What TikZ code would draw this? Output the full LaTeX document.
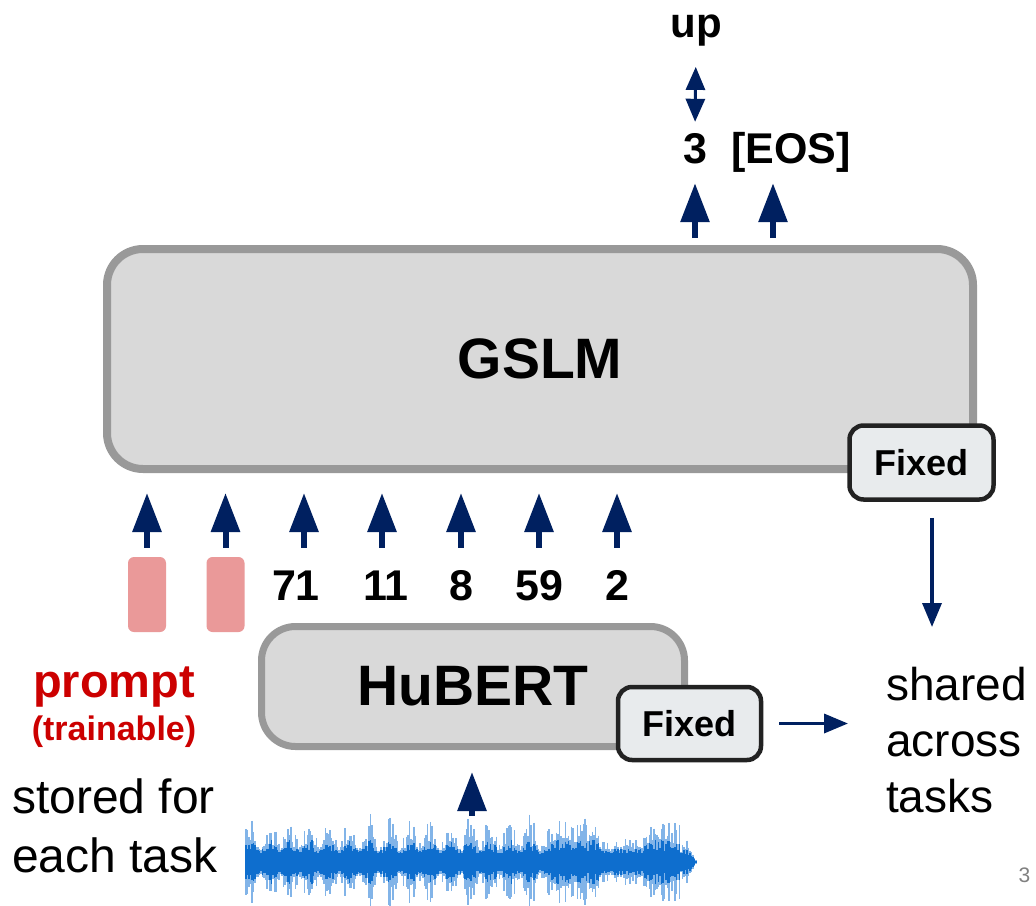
\documentclass[tikz,border=0pt]{standalone}
\usepackage{fontspec}
\setmainfont{Liberation Sans}
\usetikzlibrary{arrows.meta, positioning}
\definecolor{navy}{RGB}{0,32,96}
\definecolor{boxEdge}{RGB}{153,153,153}
\definecolor{boxFill}{RGB}{217,217,217}
\definecolor{fixedEdge}{RGB}{34,34,34}
\definecolor{fixedFill}{RGB}{232,235,237}
\definecolor{pinkFill}{RGB}{234,153,153}
\definecolor{promptRed}{RGB}{204,0,0}
\definecolor{waveDark}{RGB}{14,110,206}
\definecolor{waveLight}{RGB}{130,180,232}
\tikzstyle{bigBox} = [draw=boxEdge, fill=boxFill, line width=8pt,
   rounded corners=36pt, font=\fontsize{57}{60}\selectfont\bfseries]
\tikzstyle{fixedBox} = [draw=fixedEdge, fill=fixedFill, line width=4.5pt,
   rounded corners=14pt, minimum width=144pt, minimum height=74pt,
   font=\fontsize{36}{40}\selectfont\bfseries]
\tikzstyle{token} = [inner sep=0pt, text height=32pt, text depth=0pt,
   font=\fontsize{43}{45}\selectfont\bfseries]
\tikzstyle{promptBox} = [fill=pinkFill, rounded corners=6pt, minimum width=38pt,
   minimum height=75pt, inner sep=0pt]
\tikzstyle{fatArrow} = [navy, line width=6pt, -{Triangle[length=39pt,width=28pt]}]
\tikzstyle{thinArrow} = [navy, line width=3.5pt, -{Triangle[length=24pt,width=19pt]}]

\begin{document}
\begin{tikzpicture}[x=1pt, y=-1pt]
  \path[use as bounding box, fill=white] (0,0) rectangle (1036,905);

  % the two models
  \node[bigBox, minimum width=866pt, minimum height=220pt] (gslm) at (540,359) {GSLM};
  \node[fixedBox] (fixedg) at (921.5,462.5) {Fixed};
  \node[bigBox, line width=7pt, rounded corners=34pt, minimum width=423pt,
    minimum height=120pt] (hubert) at (473,686.5) {HuBERT};
  \node[fixedBox, minimum width=143pt, minimum height=73pt] (fixedh) at (689.5,723.5) {Fixed};

  % prompt vectors and units
  \node[promptBox] (p1) at (147,594.5) {};
  \node[promptBox] (p2) at (225.5,594.5) {};
  \foreach \tok/\x [count=\i] in {71/296, 11/386, 8/461, 59/539, 2/617}
    \node[token] (t\i) at (\x,584) {\tok};
  \foreach \n in {p1,p2}
    \draw[fatArrow, shorten <=9pt, shorten >=20pt] (\n.north) -- (\n.north |- gslm.south);
  \foreach \n/\dx in {t1/8, t2/-4, t3/0, t4/0, t5/0}
    \draw[fatArrow, shorten <=20pt, shorten >=20pt] ([xshift=\dx pt]\n.north) -- ([xshift=\dx pt]\n.north |- gslm.south);

  % output side
  \node[anchor=base, inner sep=0pt, font=\fontsize{42}{44}\selectfont\bfseries] (up) at (696,37) {up};
  \node[token] (three) at (695,147) {3};
  \node[token, anchor=base] (eos) at (791,163) {[EOS]};
  \draw[fatArrow, shorten <=7pt, shorten >=20pt] (three |- gslm.north) -- (three.south);
  \draw[fatArrow, shorten <=7pt, shorten >=20pt] ([xshift=-18pt]eos.south |- gslm.north) -- ([xshift=-18pt]eos.south);
  \draw[navy, line width=3pt, {Triangle[length=23pt,width=19pt]}-{Triangle[length=23pt,width=19pt]},
    shorten <=9pt, shorten >=21pt] (three.north) -- (up.south);

  % left labels
  \node[anchor=base, inner sep=0pt, text=promptRed,
    font=\fontsize{47}{50}\selectfont\bfseries] (prompt) at (114,697) {prompt};
  \node[anchor=base, inner sep=0pt, text=promptRed,
    font=\fontsize{34}{36}\selectfont\bfseries] (trainable) at (114,740) {(trainable)};
  \node[anchor=north west, align=left, inner sep=0pt,
    font=\fontsize{48}{59}\selectfont] (stored) at (12,779) {stored for\\each task};

  % right label
  \node[anchor=north west, align=left, inner sep=0pt,
    font=\fontsize{46}{56}\selectfont] (shared) at (886,667) {shared\\across\\tasks};
  \draw[thinArrow, shorten <=16pt, shorten >=40pt] ([xshift=10.5pt]fixedg.south) -- ([xshift=10.5pt]fixedg.south |- shared.north);
  \draw[thinArrow, shorten <=16pt, shorten >=38pt] (fixedh.east) -- (fixedh.east -| shared.west);

  % waveform
  \pgfmathsetseed{4}
  \foreach \i in {0,...,300} {
    \pgfmathsetmacro{\x}{246+1.5*\i}
    \pgfmathsetmacro{\env}{\x>680 ? max(0,(698-\x)/18) : 1}
    \pgfmathsetmacro{\m}{((\x>555 && \x<600) || (\x>642 && \x<680)) ? 1 : ((\x>=600 && \x<=642) ? 0.4 : 0.3+0.7*abs(sin(9*\x))^2)}
    \pgfmathsetmacro{\hd}{\env*(7+\m*(4+12*rnd))}
    \pgfmathsetmacro{\hl}{\hd+\env*\m*(5+24*rnd^2)}
    \draw[waveLight, line width=1.3pt] (\x,862-\hl) -- (\x,862+\hl);
    \draw[waveDark, line width=1.3pt] (\x,862-\hd) -- (\x,862+\hd);
  }
  \coordinate (wavetop) at (472,816);
  \draw[fatArrow, shorten >=22pt] (wavetop) -- (wavetop |- hubert.south);

  \node[inner sep=0pt, text=gray, font=\fontsize{21}{22}\selectfont] (page) at (1024.5,875.5) {3};
\end{tikzpicture}
\end{document}
